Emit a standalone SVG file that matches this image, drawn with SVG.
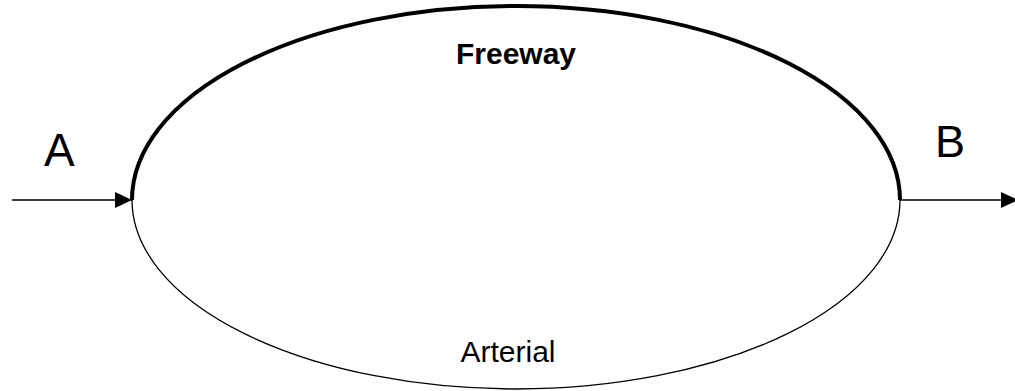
<svg xmlns="http://www.w3.org/2000/svg" width="1015" height="391" viewBox="0 0 1015 391">
<style>
.lbl{font-family:"Liberation Sans",Arial,sans-serif;fill:#000}
.conn{stroke:#000;stroke-width:1.5;fill:none}
</style>
<defs>
<marker id="ah" markerUnits="userSpaceOnUse" markerWidth="18" markerHeight="16" refX="17" refY="8" orient="auto">
<polygon points="0,0 17,8 0,16" fill="#000"/>
</marker>
</defs>
<rect width="1015" height="391" fill="#fff"/>
<g id="freeway">
<path d="M132,200 A384,194 0 0 1 900,200" fill="none" stroke="#000" stroke-width="4"/>
<text class="lbl" x="516" y="64" font-size="30" font-weight="bold" text-anchor="middle">Freeway</text>
</g>
<g id="arterial">
<path d="M132,200 A384,189 0 0 0 900,200" fill="none" stroke="#000" stroke-width="1.3"/>
<text class="lbl" x="508" y="362" font-size="30" text-anchor="middle">Arterial</text>
</g>
<g id="nodeA">
<text class="lbl" x="44" y="166" font-size="46">A</text>
</g>
<g id="nodeB">
<text class="lbl" x="935" y="157" font-size="45">B</text>
</g>
<g id="connectors">
<line class="conn" x1="12" y1="200" x2="132" y2="200" marker-end="url(#ah)"/>
<line class="conn" x1="900" y1="200" x2="1018" y2="200" marker-end="url(#ah)"/>
</g>
</svg>
